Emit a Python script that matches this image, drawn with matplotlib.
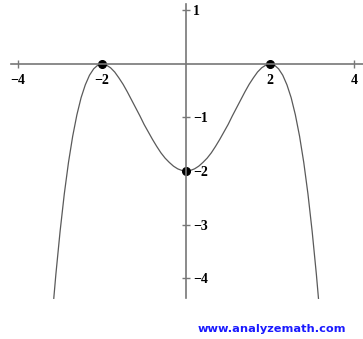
import matplotlib
matplotlib.use("Agg")
import matplotlib.pyplot as plt

# curve values
x_vals = [-3.15, -3.1, -3.0, -2.9, -2.8, -2.7, -2.6, -2.5, -2.4, -2.3, -2.2, -2.1, -2.0,
          -1.9, -1.8, -1.7, -1.6, -1.5, -1.4, -1.3, -1.2, -1.1, -1.0, -0.9, -0.8, -0.7,
          -0.6, -0.5, -0.4, -0.3, -0.2, -0.1, 0.0, 0.1, 0.2, 0.3, 0.4, 0.5, 0.6, 0.7,
          0.8, 0.9, 1.0, 1.1, 1.2, 1.3, 1.4, 1.5, 1.6, 1.7, 1.8, 1.9, 2.0, 2.1, 2.2,
          2.3, 2.4, 2.5, 2.6, 2.7, 2.8, 2.9, 3.0, 3.1, 3.15]
y_vals = [-4.38, -3.93, -3.13, -2.43, -1.84, -1.35, -0.95, -0.63, -0.39, -0.21, -0.09, -0.02, 0.0,
          -0.02, -0.07, -0.15, -0.26, -0.38, -0.52, -0.67, -0.82, -0.97, -1.13, -1.27, -1.41, -1.54,
          -1.66, -1.76, -1.84, -1.91, -1.96, -1.99, -2.0, -1.99, -1.96, -1.91, -1.84, -1.76, -1.66, -1.54,
          -1.41, -1.27, -1.13, -0.97, -0.82, -0.67, -0.52, -0.38, -0.26, -0.15, -0.07, -0.02, 0.0, -0.02, -0.09,
          -0.21, -0.39, -0.63, -0.95, -1.35, -1.84, -2.43, -3.13, -3.93, -4.38]

# marked points
pt_x = [-2, 2, 0]
pt_y = [0, 0, -2]

xticks = [-4, -2, 2, 4]
yticks = [1, -1, -2, -3, -4]

fig = plt.figure(figsize=(3.63, 3.39), dpi=100)
ax = fig.add_axes([0, 0, 1, 1])
ax.set_xlim(-4.43, 4.21)
ax.set_ylim(-5.14, 1.196)

ax.plot(x_vals, y_vals, color="#5a5a5a", lw=0.9)
ax.plot(pt_x, pt_y, "o", color="black", ms=5.5)

axis_col = "#777777"
ax.spines["top"].set_visible(False)
ax.spines["left"].set_position(("data", 0))
ax.spines["bottom"].set_position(("data", 0))
ax.spines["right"].set_position(("data", 0))
ax.spines["right"].set_visible(False)
ax.spines["left"].set_bounds(-4.37, 1.12)
ax.spines["bottom"].set_bounds(-4.17, 4.21)
for s in ["left", "bottom"]:
    ax.spines[s].set_color(axis_col)
    ax.spines[s].set_linewidth(1.2)

tfont = {"family": "Liberation Serif", "weight": "bold", "size": 10}
ax.set_xticks(xticks)
ax.set_xticklabels([f"\u2212{abs(t)}" if t < 0 else str(t) for t in xticks], fontdict=tfont)
ax.set_yticks(yticks)
ax.set_yticklabels([f"\u2212{abs(t)}" if t < 0 else str(t) for t in yticks], fontdict=tfont)
ax.tick_params(axis="x", direction="inout", length=6, width=1, color=axis_col, pad=4)
ax.tick_params(axis="y", direction="inout", length=6, width=1, color=axis_col,
               left=True, right=False, labelleft=False, labelright=True, pad=2)

fig.text(0.545, 0.02, "www.analyzemath.com", color="#1a1aff", fontsize=8.2,
         fontweight="bold", family="DejaVu Sans")

fig.savefig("out.png", dpi=100)
